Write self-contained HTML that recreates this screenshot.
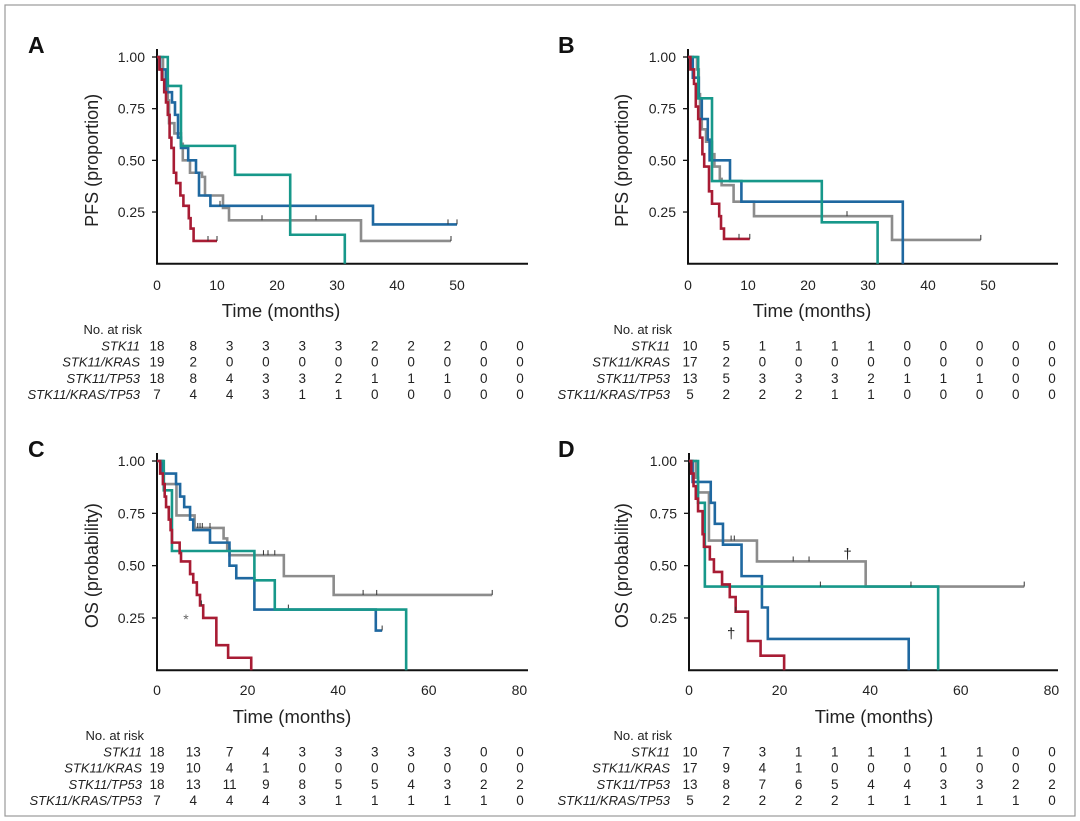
<!DOCTYPE html>
<html><head><meta charset="utf-8"><style>
body{margin:0;background:#fff;}
svg{display:block;font-family:"Liberation Sans",Arial,sans-serif;}
</style></head><body>
<svg id="c" width="1080" height="821" viewBox="0 0 1080 821">
<rect x="5" y="5" width="1070" height="811" fill="#fff" stroke="#9a9a9a" stroke-width="1.2"/>
</svg>
<script>
// ---- Panel A (PFS) ----
const aRedT=[0.4,0.8,1.2,1.5,1.8,2.1,2.4,2.8,3.2,3.9,4.4,5.3,5.6,6.1];
const aRedS=[0.94,0.89,0.83,0.78,0.72,0.61,0.56,0.44,0.39,0.33,0.28,0.22,0.17,0.11];
const aRedC=[8.5,10]; const aRedEnd=10;
const aTealT=[1.8,4,13,22.2,31.3];
const aTealS=[0.86,0.57,0.43,0.14,0];
const aTealC=[]; const aTealEnd=31.3;
const aBlueT=[0.5,1.5,2.5,3,3.5,4,5.2,6.5,7,8.9,36];
const aBlueS=[0.94,0.83,0.78,0.72,0.61,0.56,0.5,0.44,0.33,0.28,0.19];
const aBlueC=[10.5,48.5,50]; const aBlueEnd=50;
const aGrayT=[1,1.8,2,2.9,4,4.3,5.5,7.5,8,11,12,34];
const aGrayS=[0.89,0.79,0.68,0.63,0.58,0.5,0.44,0.42,0.33,0.27,0.21,0.11];
const aGrayC=[17.5,26.5,49]; const aGrayEnd=49;
// ---- Panel B (PFS) ----
const bRedT=[0.4,1,1.3,1.7,2,2.4,2.7,3.5,4,5.2,5.5,6];
const bRedS=[0.94,0.87,0.76,0.70,0.61,0.53,0.47,0.35,0.29,0.23,0.17,0.12];
const bRedC=[8.5,10.3]; const bRedEnd=10.3;
const bTealT=[1.7,4,22.3,31.6];
const bTealS=[0.8,0.4,0.2,0];
const bTealC=[]; const bTealEnd=31.6;
const bBlueT=[0.8,1.8,2.3,3.3,3.6,7,8.9,35.8];
const bBlueS=[0.9,0.8,0.7,0.6,0.5,0.4,0.3,0];
const bBlueC=[]; const bBlueEnd=35.8;
const bGrayT=[1.5,1.8,2,2.3,3,4,4.4,5.3,5.6,7.6,11,34];
const bGrayS=[0.94,0.82,0.70,0.65,0.59,0.53,0.47,0.41,0.38,0.30,0.23,0.115];
const bGrayC=[26.5,48.8]; const bGrayEnd=48.8;
// ---- Panel C (OS) ----
const cRedT=[0.7,1.3,1.7,2,2.6,3,3.3,5,5.3,7.3,8,8.8,9.5,10.2,13.1,15.7,20.8];
const cRedS=[0.94,0.89,0.83,0.78,0.72,0.67,0.61,0.56,0.52,0.46,0.42,0.36,0.31,0.25,0.12,0.06,0];
const cRedC=[9.8]; const cRedEnd=20.8;
const cTealT=[1.5,3.3,21.5,26,55];
const cTealS=[0.86,0.57,0.43,0.29,0];
const cTealC=[]; const cTealEnd=55;
const cBlueT=[1.3,4.2,5.1,6,7.3,8,11.7,16,17.5,21.5,48.3];
const cBlueS=[0.94,0.89,0.83,0.78,0.72,0.67,0.61,0.5,0.44,0.29,0.19];
const cBlueC=[29,49.7]; const cBlueEnd=49.7;
const cGrayT=[1,1.5,4.3,8.3,14.7,15.5,16,28,39];
const cGrayS=[0.95,0.89,0.74,0.68,0.63,0.58,0.55,0.45,0.36];
const cGrayC=[9,9.5,10,11.7,23.5,24.5,26,45.5,48.5,74]; const cGrayEnd=74;
// ---- Panel D (OS) ----
const dRedT=[0.5,1,1.5,2,3,3.3,4.6,5.5,7.3,9,10.3,13,15.8,21];
const dRedS=[0.94,0.88,0.82,0.76,0.65,0.59,0.53,0.47,0.41,0.35,0.28,0.14,0.07,0];
const dRedC=[10.3]; const dRedEnd=21;
const dTealT=[2,3.5,55];
const dTealS=[0.8,0.4,0];
const dTealC=[29,49]; const dTealEnd=55;
const dBlueT=[0.8,4.8,5.7,7.5,11.6,16.1,17.4,48.5];
const dBlueS=[0.9,0.8,0.7,0.6,0.45,0.3,0.15,0];
const dBlueC=[]; const dBlueEnd=48.5;
const dGrayT=[1.5,2,4.4,15,39];
const dGrayS=[0.92,0.85,0.62,0.52,0.40];
const dGrayC=[9.3,10,23,26.5,74]; const dGrayEnd=74;
// ---- Risk tables ----
const riskGroups=["STK11","STK11/KRAS","STK11/TP53","STK11/KRAS/TP53"];
const riskA=[[18,8,3,3,3,3,2,2,2,0,0],[19,2,0,0,0,0,0,0,0,0,0],[18,8,4,3,3,2,1,1,1,0,0],[7,4,4,3,1,1,0,0,0,0,0]];
const riskB=[[10,5,1,1,1,1,0,0,0,0,0],[17,2,0,0,0,0,0,0,0,0,0],[13,5,3,3,3,2,1,1,1,0,0],[5,2,2,2,1,1,0,0,0,0,0]];
const riskC=[[18,13,7,4,3,3,3,3,3,0,0],[19,10,4,1,0,0,0,0,0,0,0],[18,13,11,9,8,5,5,4,3,2,2],[7,4,4,4,3,1,1,1,1,1,0]];
const riskD=[[10,7,3,1,1,1,1,1,1,0,0],[17,9,4,1,0,0,0,0,0,0,0],[13,8,7,6,5,4,4,3,3,2,2],[5,2,2,2,2,1,1,1,1,1,0]];
const yTicks=["1.00","0.75","0.50","0.25"]; const yTickVals=[1,0.75,0.5,0.25];
const xTicksPFS=[0,10,20,30,40,50];
const xTicksOS=[0,20,40,60,80];

const COL={red:"#a81c34",teal:"#17988a",blue:"#1f68a0",gray:"#8c8c8c"};
const NS="http://www.w3.org/2000/svg";
const svg=document.getElementById("c");
function mk(tag,attrs,parent,txt){const e=document.createElementNS(NS,tag);for(const k in attrs)e.setAttribute(k,attrs[k]);if(txt!==undefined)e.textContent=txt;(parent||svg).appendChild(e);return e;}

const panels=[
 {id:"a",letter:"A",lx:28,x0:157,y0:263.7,yh:206.7,px:6.0,axEnd:528,ticks:xTicksPFS,ylab:"PFS (proportion)",ylx:92,xlab:[281,311],tickY:290,risk:riskA,riskTop:334,numX0:157,numX1:520,labR:140,
  series:[["gray",aGrayT,aGrayS,aGrayC,aGrayEnd],["blue",aBlueT,aBlueS,aBlueC,aBlueEnd],["teal",aTealT,aTealS,aTealC,aTealEnd],["red",aRedT,aRedS,aRedC,aRedEnd]],top:57},
 {id:"b",letter:"B",lx:558,x0:688,y0:263.7,yh:206.7,px:6.0,axEnd:1058,ticks:xTicksPFS,ylab:"PFS (proportion)",ylx:622,xlab:[812,311],tickY:290,risk:riskB,riskTop:334,numX0:690,numX1:1052,labR:670,
  series:[["gray",bGrayT,bGrayS,bGrayC,bGrayEnd],["blue",bBlueT,bBlueS,bBlueC,bBlueEnd],["teal",bTealT,bTealS,bTealC,bTealEnd],["red",bRedT,bRedS,bRedC,bRedEnd]],top:57},
 {id:"c",letter:"C",lx:28,x0:157,y0:670.3,yh:209.3,px:4.53,axEnd:528,ticks:xTicksOS,ylab:"OS (probability)",ylx:92,xlab:[292,717],tickY:695,risk:riskC,riskTop:740,numX0:157,numX1:520,labR:142,
  series:[["gray",cGrayT,cGrayS,cGrayC,cGrayEnd],["blue",cBlueT,cBlueS,cBlueC,cBlueEnd],["teal",cTealT,cTealS,cTealC,cTealEnd],["red",cRedT,cRedS,cRedC,cRedEnd]],top:461},
 {id:"d",letter:"D",lx:558,x0:689,y0:670.3,yh:209.3,px:4.53,axEnd:1058,ticks:xTicksOS,ylab:"OS (probability)",ylx:622,xlab:[874,717],tickY:695,risk:riskD,riskTop:740,numX0:690,numX1:1052,labR:670,
  series:[["gray",dGrayT,dGrayS,dGrayC,dGrayEnd],["blue",dBlueT,dBlueS,dBlueC,dBlueEnd],["teal",dTealT,dTealS,dTealC,dTealEnd],["red",dRedT,dRedS,dRedC,dRedEnd]],top:461}
];

panels.forEach(p=>{
  const g=mk("g",{});
  
  
  const X=t=>p.x0+t*p.px, Y=s=>p.y0-s*p.yh;
  const L=mk("text",{x:p.lx,y:p.top-4,"font-size":23,"font-weight":"bold",fill:"#111"},g,p.letter);
  
  
  const ya=mk("line",{x1:p.x0,y1:p.top-8,x2:p.x0,y2:p.y0+0.5,stroke:"#111","stroke-width":2},g);
  
  
  const xa=mk("line",{x1:p.x0-1,y1:p.y0,x2:p.axEnd,y2:p.y0,stroke:"#111","stroke-width":2},g);
  
  
  yTickVals.forEach((v,i)=>{
    mk("line",{x1:p.x0-5,y1:Y(v),x2:p.x0,y2:Y(v),stroke:"#111","stroke-width":1.3},g);
    const t=mk("text",{x:p.x0-12,y:Y(v)+5,"font-size":14,"text-anchor":"end",fill:"#222"},g,yTicks[i]);
    
    
  });
  p.ticks.forEach(v=>{
    const t=mk("text",{x:X(v),y:p.tickY,"font-size":14,"text-anchor":"middle",fill:"#222"},g,String(v));
    
    
  });
  const yl=mk("text",{x:0,y:0,"font-size":18,"text-anchor":"middle",fill:"#222",transform:`translate(${p.ylx+6},${(p.top+p.y0)/2}) rotate(-90)`},g,p.ylab);
  
  
  const xl=mk("text",{x:p.xlab[0],y:p.xlab[1]+6,"font-size":18.5,"text-anchor":"middle",fill:"#222"},g,"Time (months)");
  
  
  p.series.forEach(([c,T,S,C,end])=>{
    let d=`M${X(0)},${Y(1)}`;
    T.forEach((t,i)=>{d+=` H${X(t)} V${Y(S[i])}`;});
    d+=` H${X(end)}`;
    const path=mk("path",{d:d,fill:"none",stroke:COL[c],"stroke-width":2.6},g);
    
    
    C.forEach(ct=>{
      let s=1;T.forEach((t,i)=>{if(t<=ct)s=S[i];});
      const m=mk("line",{x1:X(ct),y1:Y(s),x2:X(ct),y2:Y(s)-5,stroke:"#333","stroke-width":1},g);
      
      
    });
  });
  const h=mk("text",{x:p.labR+2,y:p.riskTop,"font-size":13,"text-anchor":"end",fill:"#222"},g,"No. at risk");
  
  
  p.risk.forEach((row,r)=>{
    const yy=p.riskTop+16.3*(r+1);
    const lab=mk("text",{x:p.labR,y:yy,"font-size":13,"text-anchor":"end","font-style":"italic",fill:"#222"},g,riskGroups[r]);
    
    
    row.forEach((n,j)=>{
      const t=mk("text",{x:p.numX0+j*(p.numX1-p.numX0)/(row.length-1),y:yy,"font-size":13.5,"text-anchor":"middle",fill:"#222"},g,String(n));
      
      
    });
  });
  p.X=X;p.Y=Y;p.g=g;
});
const pc=panels[2],pd=panels[3];
const ast=mk("text",{x:pc.X(6.4),y:pc.Y(0.25)+6,"font-size":14,"text-anchor":"middle",fill:"#666"},pc.g,"*");


const dg1=mk("text",{x:pd.X(35),y:pd.Y(0.56)+6,"font-size":15,"text-anchor":"middle",fill:"#222"},pd.g,"†");


const dg2=mk("text",{x:pd.X(9.3),y:pd.Y(0.18)+6,"font-size":15,"text-anchor":"middle",fill:"#222"},pd.g,"†");


</script>
</body></html>
